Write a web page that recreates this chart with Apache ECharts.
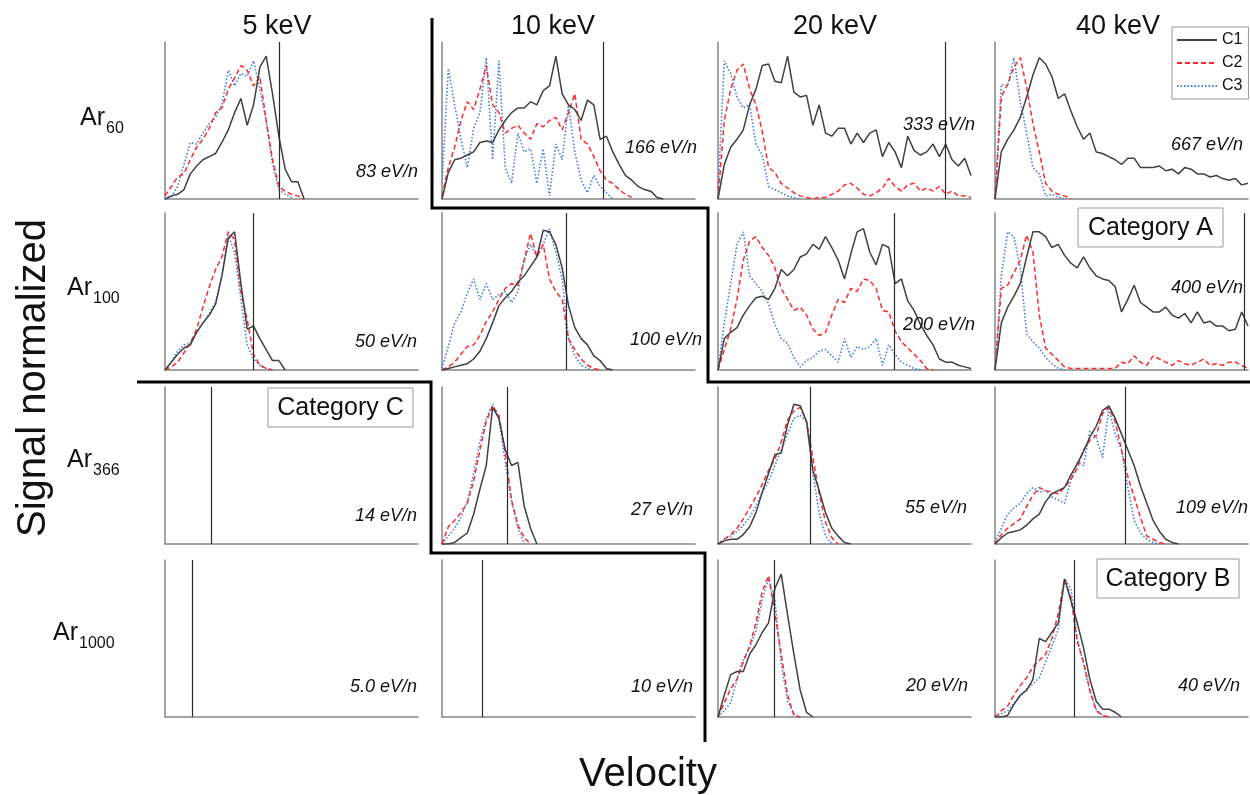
<!DOCTYPE html>
<html>
<head>
<meta charset="utf-8">
<script src="https://cdn.jsdelivr.net/npm/echarts@6/dist/echarts.min.js"></script>
<style>
  html, body { margin: 0; padding: 0; background: #fff; }
  #chart { width: 1250px; height: 795px; }
</style>
</head>
<body>
<div id="chart"></div>
<script>
// column / row headers
const energies = ['5 keV', '10 keV', '20 keV', '40 keV']
const clusterSizes = ['60', '100', '366', '1000']
const seriesNames = ['C1', 'C2', 'C3']
const perNucleon = [
  ['83 eV/n', '166 eV/n', '333 eV/n', '667 eV/n'],
  ['50 eV/n', '100 eV/n', '200 eV/n', '400 eV/n'],
  ['14 eV/n', '27 eV/n', '55 eV/n', '109 eV/n'],
  ['5.0 eV/n', '10 eV/n', '20 eV/n', '40 eV/n']
]
// reference velocity marker, % of the axis (null = off scale)
const markers = [
  [45, 63.6, 89.9, null],
  [34.9, 49.3, 69.7, 98.4],
  [18.2, 25.7, 36.4, 51.5],
  [10.7, 15.8, 22.2, 31.5]
]
// samples are spaced 2.5 % of the velocity axis apart
const step = 2.5

// Ar60
const ar60_5_c1 = [0, 0.02, 0.03, 0.06, 0.16, 0.21, 0.25, 0.27, 0.29, 0.36, 0.44, 0.55, 0.64, 0.47, 0.6, 0.84, 0.91, 0.67, 0.4, 0.19, 0.11, 0.11, 0]
const ar60_5_c2 = [0.02, 0.08, 0.14, 0.16, 0.25, 0.33, 0.38, 0.45, 0.55, 0.58, 0.7, 0.77, 0.85, 0.82, 0.72, 0.78, 0.5, 0.25, 0.08, 0.05, 0.03, 0.02, 0]
const ar60_5_c3 = [0, 0.01, 0.08, 0.22, 0.36, 0.35, 0.42, 0.48, 0.52, 0.6, 0.82, 0.72, 0.8, 0.78, 0.88, 0.7, 0.5, 0.22, 0.06, 0.03, 0.01]
const ar60_10_c1 = [0, 0.17, 0.25, 0.26, 0.28, 0.3, 0.36, 0.37, 0.36, 0.44, 0.5, 0.55, 0.58, 0.58, 0.62, 0.6, 0.69, 0.72, 0.91, 0.67, 0.6, 0.57, 0.5, 0.63, 0.6, 0.38, 0.4, 0.3, 0.22, 0.15, 0.12, 0.08, 0.06, 0.05, 0.01, 0]
const ar60_10_c2 = [0.02, 0.2, 0.33, 0.5, 0.62, 0.57, 0.7, 0.85, 0.6, 0.55, 0.42, 0.45, 0.47, 0.42, 0.38, 0.48, 0.46, 0.5, 0.52, 0.44, 0.55, 0.67, 0.38, 0.35, 0.27, 0.18, 0.12, 0.1, 0.06, 0.03, 0.01]
const ar60_10_c3 = [0.1, 0.83, 0.6, 0.38, 0.2, 0.45, 0.55, 0.9, 0.25, 0.88, 0.2, 0.1, 0.42, 0.3, 0.32, 0.1, 0.32, 0.02, 0.35, 0.25, 0.6, 0.3, 0.12, 0.04, 0.15, 0.08, 0.04, 0]
const ar60_20_c1 = [0, 0.22, 0.33, 0.38, 0.44, 0.6, 0.7, 0.85, 0.86, 0.75, 0.74, 0.91, 0.68, 0.65, 0.66, 0.47, 0.6, 0.42, 0.4, 0.45, 0.45, 0.35, 0.42, 0.36, 0.42, 0.44, 0.27, 0.36, 0.3, 0.2, 0.4, 0.31, 0.28, 0.3, 0.35, 0.27, 0.35, 0.25, 0.21, 0.26, 0.15]
const ar60_20_c2 = [0, 0.5, 0.7, 0.82, 0.86, 0.7, 0.6, 0.43, 0.2, 0.17, 0.1, 0.07, 0.04, 0.02, 0.01, 0, 0.01, 0.01, 0.03, 0.05, 0.09, 0.1, 0.07, 0.03, 0.02, 0.04, 0.07, 0.13, 0.08, 0.05, 0.09, 0.1, 0.05, 0.07, 0.05, 0.08, 0.03, 0.05, 0.02, 0.02, 0.01]
const ar60_20_c3 = [0.05, 0.88, 0.8, 0.65, 0.58, 0.6, 0.35, 0.28, 0.08, 0.06, 0.04, 0.02, 0.01, 0]
const ar60_40_c1 = [0, 0.3, 0.38, 0.44, 0.52, 0.65, 0.79, 0.9, 0.86, 0.78, 0.64, 0.67, 0.56, 0.46, 0.38, 0.42, 0.3, 0.29, 0.27, 0.25, 0.22, 0.26, 0.26, 0.2, 0.2, 0.2, 0.21, 0.18, 0.19, 0.16, 0.2, 0.19, 0.16, 0.16, 0.14, 0.15, 0.13, 0.12, 0.13, 0.09, 0.1]
const ar60_40_c2 = [0, 0.65, 0.73, 0.84, 0.9, 0.71, 0.48, 0.3, 0.1, 0.05, 0.03, 0.02, 0]
const ar60_40_c3 = [0, 0.73, 0.72, 0.9, 0.62, 0.42, 0.2, 0.16, 0.02, 0.03, 0.01, 0]

// Ar100
const ar100_5_c1 = [0, 0.05, 0.1, 0.14, 0.16, 0.24, 0.3, 0.35, 0.42, 0.6, 0.84, 0.88, 0.55, 0.26, 0.28, 0.2, 0.13, 0.06, 0.06, 0]
const ar100_5_c2 = [0, 0.02, 0.05, 0.11, 0.17, 0.26, 0.4, 0.53, 0.64, 0.72, 0.88, 0.83, 0.5, 0.32, 0.1, 0.03, 0.01, 0]
const ar100_5_c3 = [0, 0.05, 0.12, 0.16, 0.17, 0.24, 0.3, 0.36, 0.43, 0.6, 0.86, 0.75, 0.45, 0.16, 0.07, 0.03, 0.01, 0]
const ar100_10_c1 = [0, 0.01, 0.02, 0.03, 0.04, 0.07, 0.12, 0.2, 0.3, 0.41, 0.46, 0.5, 0.56, 0.6, 0.66, 0.72, 0.89, 0.88, 0.8, 0.65, 0.41, 0.27, 0.2, 0.16, 0.09, 0.06, 0.01, 0]
const ar100_10_c2 = [0, 0.02, 0.05, 0.1, 0.15, 0.16, 0.22, 0.31, 0.37, 0.45, 0.52, 0.55, 0.54, 0.7, 0.87, 0.72, 0.8, 0.58, 0.5, 0.45, 0.2, 0.13, 0.07, 0.03, 0.01, 0]
const ar100_10_c3 = [0.01, 0.15, 0.3, 0.37, 0.49, 0.58, 0.45, 0.55, 0.45, 0.48, 0.5, 0.43, 0.5, 0.7, 0.8, 0.72, 0.8, 0.9, 0.75, 0.58, 0.2, 0.09, 0.03, 0.01, 0]
const ar100_20_c1 = [0, 0.2, 0.24, 0.27, 0.35, 0.41, 0.46, 0.47, 0.45, 0.52, 0.64, 0.6, 0.64, 0.72, 0.74, 0.8, 0.77, 0.85, 0.78, 0.7, 0.58, 0.74, 0.88, 0.9, 0.75, 0.67, 0.8, 0.78, 0.55, 0.58, 0.44, 0.38, 0.29, 0.22, 0.16, 0.07, 0.05, 0.05, 0.03, 0.02, 0.01]
const ar100_20_c2 = [0, 0.13, 0.26, 0.45, 0.7, 0.82, 0.85, 0.78, 0.73, 0.65, 0.52, 0.45, 0.38, 0.4, 0.35, 0.26, 0.22, 0.24, 0.35, 0.45, 0.43, 0.52, 0.5, 0.58, 0.57, 0.52, 0.38, 0.37, 0.25, 0.18, 0.14, 0.1, 0.06, 0.01, 0]
const ar100_20_c3 = [0, 0.3, 0.55, 0.8, 0.88, 0.6, 0.55, 0.5, 0.42, 0.29, 0.2, 0.17, 0.08, 0.02, 0.06, 0.08, 0.12, 0.13, 0.09, 0.05, 0.2, 0.08, 0.15, 0.13, 0.15, 0.2, 0.03, 0.16, 0.1, 0.05, 0.03, 0.01, 0]
const ar100_40_c1 = [0, 0.3, 0.4, 0.47, 0.55, 0.72, 0.88, 0.88, 0.85, 0.78, 0.8, 0.73, 0.68, 0.65, 0.72, 0.65, 0.6, 0.58, 0.57, 0.53, 0.37, 0.45, 0.54, 0.43, 0.4, 0.37, 0.37, 0.4, 0.35, 0.33, 0.36, 0.3, 0.37, 0.3, 0.31, 0.28, 0.28, 0.25, 0.26, 0.37, 0.28]
const ar100_40_c2 = [0, 0.52, 0.54, 0.62, 0.7, 0.86, 0.75, 0.35, 0.14, 0.1, 0.06, 0.02, 0.01, 0.01, 0.01, 0.01, 0.01, 0.01, 0.01, 0.01, 0.05, 0.04, 0.09, 0.05, 0.03, 0.09, 0.07, 0.05, 0.03, 0.06, 0.04, 0.03, 0.05, 0.07, 0.03, 0.04, 0.03, 0.05, 0.05, 0.03, 0.01]
const ar100_40_c3 = [0, 0.6, 0.88, 0.85, 0.65, 0.23, 0.18, 0.14, 0.08, 0.04, 0.01, 0]

// Ar366
const ar366_10_c1 = [0, 0, 0.01, 0.04, 0.07, 0.19, 0.35, 0.5, 0.87, 0.8, 0.6, 0.5, 0.52, 0.24, 0.1, 0]
const ar366_10_c2 = [0, 0.11, 0.15, 0.2, 0.26, 0.4, 0.6, 0.78, 0.88, 0.82, 0.58, 0.28, 0.12, 0.04, 0]
const ar366_10_c3 = [0, 0.05, 0.1, 0.17, 0.27, 0.45, 0.65, 0.8, 0.89, 0.8, 0.52, 0.27, 0.1, 0]
const ar366_20_c1 = [0, 0.02, 0.03, 0.03, 0.06, 0.11, 0.2, 0.33, 0.45, 0.57, 0.58, 0.76, 0.89, 0.88, 0.78, 0.47, 0.34, 0.2, 0.1, 0.05, 0.01, 0]
const ar366_20_c2 = [0, 0.03, 0.06, 0.1, 0.16, 0.23, 0.3, 0.38, 0.47, 0.54, 0.65, 0.79, 0.85, 0.87, 0.78, 0.55, 0.32, 0.14, 0.04, 0]
const ar366_20_c3 = [0, 0.03, 0.05, 0.08, 0.12, 0.17, 0.24, 0.33, 0.4, 0.5, 0.6, 0.7, 0.8, 0.82, 0.78, 0.45, 0.2, 0.05, 0]
const ar366_40_c1 = [0, 0.04, 0.07, 0.08, 0.09, 0.12, 0.16, 0.19, 0.27, 0.32, 0.34, 0.36, 0.44, 0.51, 0.59, 0.68, 0.75, 0.85, 0.88, 0.8, 0.7, 0.6, 0.5, 0.37, 0.26, 0.15, 0.08, 0.03, 0.01, 0]
const ar366_40_c2 = [0, 0.06, 0.1, 0.13, 0.16, 0.24, 0.31, 0.36, 0.34, 0.33, 0.32, 0.36, 0.41, 0.48, 0.6, 0.66, 0.69, 0.83, 0.87, 0.78, 0.6, 0.43, 0.3, 0.17, 0.05, 0.03, 0.01, 0]
const ar366_40_c3 = [0.01, 0.1, 0.19, 0.23, 0.26, 0.32, 0.36, 0.33, 0.34, 0.3, 0.28, 0.26, 0.41, 0.52, 0.5, 0.72, 0.68, 0.55, 0.86, 0.7, 0.6, 0.36, 0.15, 0.07, 0.03, 0.01, 0]

// Ar1000
const ar1000_20_c1 = [0, 0.14, 0.27, 0.29, 0.29, 0.4, 0.46, 0.54, 0.6, 0.82, 0.91, 0.65, 0.4, 0.17, 0.03, 0]
const ar1000_20_c2 = [0, 0.09, 0.18, 0.24, 0.35, 0.45, 0.6, 0.8, 0.9, 0.66, 0.4, 0.14, 0.01, 0]
const ar1000_20_c3 = [0, 0.04, 0.09, 0.24, 0.37, 0.44, 0.55, 0.75, 0.88, 0.74, 0.34, 0.1, 0.02, 0]
const ar1000_40_c1 = [0, 0, 0.01, 0.08, 0.14, 0.17, 0.24, 0.5, 0.48, 0.54, 0.6, 0.88, 0.74, 0.6, 0.44, 0.24, 0.1, 0.05, 0.05, 0.03, 0]
const ar1000_40_c2 = [0, 0.04, 0.07, 0.14, 0.2, 0.25, 0.32, 0.36, 0.4, 0.5, 0.66, 0.88, 0.76, 0.48, 0.35, 0.17, 0.04, 0.01, 0]
const ar1000_40_c3 = [0, 0.02, 0.04, 0.09, 0.13, 0.18, 0.21, 0.25, 0.35, 0.45, 0.56, 0.88, 0.82, 0.5, 0.34, 0.16, 0.05, 0.01, 0]

// [row][col] -> [C1, C2, C3] or null (no signal)
const panelData = [
  [[ar60_5_c1, ar60_5_c2, ar60_5_c3], [ar60_10_c1, ar60_10_c2, ar60_10_c3], [ar60_20_c1, ar60_20_c2, ar60_20_c3], [ar60_40_c1, ar60_40_c2, ar60_40_c3]],
  [[ar100_5_c1, ar100_5_c2, ar100_5_c3], [ar100_10_c1, ar100_10_c2, ar100_10_c3], [ar100_20_c1, ar100_20_c2, ar100_20_c3], [ar100_40_c1, ar100_40_c2, ar100_40_c3]],
  [null, [ar366_10_c1, ar366_10_c2, ar366_10_c3], [ar366_20_c1, ar366_20_c2, ar366_20_c3], [ar366_40_c1, ar366_40_c2, ar366_40_c3]],
  [null, null, [ar1000_20_c1, ar1000_20_c2, ar1000_20_c3], [ar1000_40_c1, ar1000_40_c2, ar1000_40_c3]]
]

const FONT = 'Liberation Sans, Arial, sans-serif'
const colLeft = [165, 442, 718, 995]
const rowTop = [42, 213, 387, 560]
const panelW = 253
const panelH = 157
const lineStyles = [
  { color: '#404040', width: 1.5, type: 'solid' },
  { color: '#ff2b2b', width: 1.5, type: [5, 3] },
  { color: '#3b7cea', width: 1.6, type: [1.5, 2] }
]
// label anchors (right edge x, centre y)
const labelPos = [
  [[418, 172], [697, 148], [975, 125], [1243, 145]],
  [[417, 342], [702, 340], [975, 325], [1243, 288]],
  [[417, 516], [693, 510], [967, 508], [1248, 508]],
  [[417, 687], [693, 687], [968, 686], [1240, 686]]
]

const grid = []
const xAxis = []
const yAxis = []
const series = []
const graphic = []

const axisStyle = { show: true, onZero: false, lineStyle: { color: '#858585', width: 1.5 } }

for (let r = 0; r < 4; r++) {
  for (let c = 0; c < 4; c++) {
    const k = grid.length
    grid.push({ left: colLeft[c], top: rowTop[r], width: panelW, height: panelH })
    xAxis.push({ gridIndex: k, type: 'value', min: 0, max: 100, axisLine: axisStyle,
      axisTick: { show: false }, axisLabel: { show: false }, splitLine: { show: false } })
    yAxis.push({ gridIndex: k, type: 'value', min: 0, max: 1, axisLine: axisStyle,
      axisTick: { show: false }, axisLabel: { show: false }, splitLine: { show: false } })
    const markLine = markers[r][c] == null ? undefined : {
      silent: true, symbol: ['none', 'none'], label: { show: false },
      lineStyle: { color: '#2a2a2a', width: 1.2, type: 'solid' },
      data: [{ xAxis: markers[r][c] }]
    }
    const sets = panelData[r][c]
    if (!sets) {
      series.push({ type: 'line', name: 'C1', xAxisIndex: k, yAxisIndex: k, data: [], symbol: 'none',
        lineStyle: lineStyles[0], itemStyle: { color: lineStyles[0].color }, markLine })
    } else {
      sets.forEach((vals, s) => {
        series.push({
          type: 'line', name: seriesNames[s], xAxisIndex: k, yAxisIndex: k,
          data: vals.map((v, i) => [i * step, v]),
          symbol: 'none', z: 3 - s,
          lineStyle: lineStyles[s], itemStyle: { color: lineStyles[s].color },
          markLine: s === 0 ? markLine : undefined
        })
      })
    }
    graphic.push({ type: 'text', x: labelPos[r][c][0], y: labelPos[r][c][1], z: 50,
      style: { text: perNucleon[r][c], font: 'italic 18px ' + FONT, fill: '#111', textAlign: 'right', textVerticalAlign: 'middle' } })
  }
}

// column headers
const titleX = [277, 553, 835, 1118]
energies.forEach((t, c) => {
  graphic.push({ type: 'text', x: titleX[c], y: 27,
    style: { text: t, font: '27px ' + FONT, fill: '#111', textAlign: 'center', textVerticalAlign: 'middle' } })
})
// row headers Ar_n
const rowLabelX = [80, 67, 67, 53]
const rowLabelY = [118, 288, 460, 633]
clusterSizes.forEach((n, r) => {
  graphic.push({ type: 'text', x: rowLabelX[r], y: rowLabelY[r],
    style: { text: 'Ar', font: '25px ' + FONT, fill: '#111', textAlign: 'left', textVerticalAlign: 'middle' } })
  graphic.push({ type: 'text', x: rowLabelX[r] + 26, y: rowLabelY[r] + 11,
    style: { text: n, font: '16px ' + FONT, fill: '#111', textAlign: 'left', textVerticalAlign: 'middle' } })
})
// axis titles
graphic.push({ type: 'text', x: 34, y: 378, rotation: Math.PI / 2,
  style: { text: 'Signal normalized', font: '40px ' + FONT, fill: '#111', textAlign: 'center', textVerticalAlign: 'middle' } })
graphic.push({ type: 'text', x: 648, y: 775,
  style: { text: 'Velocity', font: '40px ' + FONT, fill: '#111', textAlign: 'center', textVerticalAlign: 'middle' } })

// category separators
graphic.push({ type: 'polyline', z: 60, shape: { points: [[432, 18], [432, 208], [708, 208], [708, 382], [1250, 382]] },
  style: { stroke: '#000', lineWidth: 3, fill: null } })
graphic.push({ type: 'polyline', z: 60, shape: { points: [[137, 382], [431, 382], [431, 553], [705, 553], [705, 742]] },
  style: { stroke: '#000', lineWidth: 3, fill: null } })

// category boxes
const boxes = [
  ['Category A', 1078, 208, 145, 39],
  ['Category C', 268, 388, 145, 39],
  ['Category B', 1097, 559, 142, 39]
]
boxes.forEach(([t, x, y, w, h]) => {
  graphic.push({ type: 'rect', z: 70, shape: { x, y, width: w, height: h },
    style: { fill: '#fff', stroke: '#9a9a9a', lineWidth: 1 } })
  graphic.push({ type: 'text', z: 71, x: x + w / 2, y: y + h / 2 + 1,
    style: { text: t, font: '25px ' + FONT, fill: '#111', textAlign: 'center', textVerticalAlign: 'middle' } })
})

const chart = echarts.init(document.getElementById('chart'))
chart.setOption({
  animation: false,
  backgroundColor: '#fff',
  legend: {
    data: seriesNames, orient: 'vertical', left: 1172, top: 27,
    itemWidth: 40, itemHeight: 14, itemGap: 7,
    padding: [5, 6, 5, 4],
    borderColor: '#9a9a9a', borderWidth: 1, backgroundColor: '#fff',
    itemStyle: { opacity: 0 },
    textStyle: { fontFamily: FONT, fontSize: 16, color: '#111' }
  },
  grid, xAxis, yAxis, series, graphic
})
</script>
</body>
</html>
